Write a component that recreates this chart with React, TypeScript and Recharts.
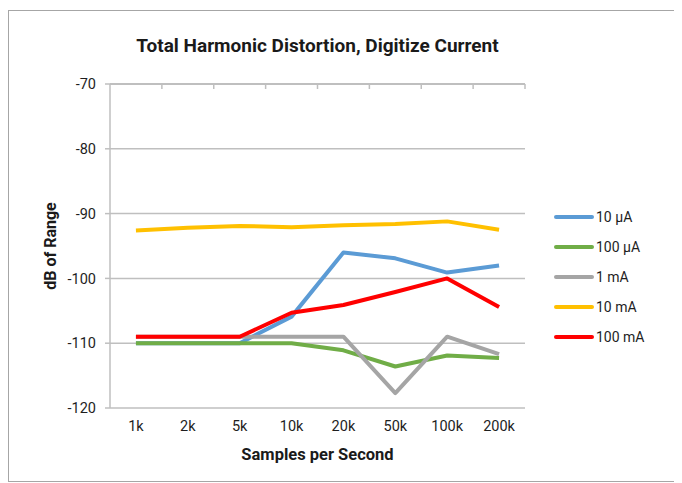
import React from 'react';
import { LineChart, Line, XAxis, YAxis, CartesianGrid, Label } from 'recharts';

const categories = ['1k', '2k', '5k', '10k', '20k', '50k', '100k', '200k'];
const uA10 = [-110, -110, -110, -105.9, -96.0, -96.9, -99.1, -98.0];
const uA100 = [-110, -110, -110, -110, -111.1, -113.6, -111.9, -112.3];
const mA1 = [-109, -109, -109, -109, -109, -117.7, -109, -111.7];
const mA10 = [-92.6, -92.2, -91.9, -92.1, -91.8, -91.6, -91.2, -92.5];
const mA100 = [-109, -109, -109, -105.3, -104.1, -102.1, -100.0, -104.4];
const yTicks = [-120, -110, -100, -90, -80, -70];

const series = [
    { key: 'uA10', name: '10 µA', color: '#5B9BD5', values: uA10 },
    { key: 'uA100', name: '100 µA', color: '#70AD47', values: uA100 },
    { key: 'mA1', name: '1 mA', color: '#A5A5A5', values: mA1 },
    { key: 'mA10', name: '10 mA', color: '#FFC000', values: mA10 },
    { key: 'mA100', name: '100 mA', color: '#FF0000', values: mA100 },
];

const data = categories.map((name, idx) => {
    const row: Record<string, number | string> = { name, idx };
    series.forEach((s) => {
        row[s.key] = s.values[idx];
    });
    return row;
});

const font = 'Roboto, "DejaVu Sans", sans-serif';
const gray = '#BFBFBF';

const App: React.FC = () => {
    return (
        <div
            style={{
                position: 'relative',
                marginTop: 2,
                width: 674,
                height: 470,
                borderTop: '1.5px solid #A6A6A6',
                borderLeft: '1.5px solid #A6A6A6',
                borderBottom: '1.5px solid #A6A6A6',
                fontFamily: font,
                background: '#fff',
            }}
        >
            <div
                style={{
                    position: 'absolute',
                    top: 23,
                    left: 0,
                    width: 617,
                    textAlign: 'center',
                    fontSize: 19,
                    fontWeight: 700,
                    color: '#1a1a1a',
                }}
            >
                Total Harmonic Distortion, Digitize Current
            </div>
            <LineChart
                width={674}
                height={470}
                data={data}
                margin={{ top: 73, right: 158, bottom: 13, left: 0 }}
                style={{ fontFamily: font }}
            >
                <CartesianGrid horizontal vertical={false} stroke={gray} strokeWidth={1.5} />
                <XAxis
                    xAxisId="top"
                    orientation="top"
                    type="number"
                    dataKey="idx"
                    domain={[-0.5, 7.5]}
                    ticks={[0.5, 1.5, 2.5, 3.5, 4.5, 5.5, 6.5, 7.5]}
                    height={10}
                    mirror
                    tickFormatter={() => ''}
                    tickSize={5}
                    axisLine={{ stroke: gray, strokeWidth: 2 }}
                    tickLine={{ stroke: gray, strokeWidth: 1.5 }}
                />
                <XAxis
                    xAxisId="bottom"
                    type="number"
                    dataKey="idx"
                    domain={[-0.5, 7.5]}
                    ticks={[0, 1, 2, 3, 4, 5, 6, 7]}
                    tickFormatter={(i: number) => categories[i]}
                    height={60}
                    axisLine={false}
                    tickLine={false}
                    tickSize={6}
                    tickMargin={7}
                    tick={{ fill: '#1e1e1e', fontSize: 14.5 }}
                >
                    <Label
                        value="Samples per Second"
                        position="insideBottom"
                        offset={8}
                        style={{ fill: '#1a1a1a', fontSize: 16.5, fontWeight: 700 }}
                    />
                </XAxis>
                <YAxis
                    domain={[-120, -70]}
                    ticks={yTicks}
                    width={101}
                    tickSize={5}
                    tickMargin={9}
                    axisLine={{ stroke: gray, strokeWidth: 1.5 }}
                    tickLine={{ stroke: gray, strokeWidth: 1.5 }}
                    tick={{ fill: '#1e1e1e', fontSize: 14.5 }}
                >
                    <Label
                        value="dB of Range"
                        angle={-90}
                        position="insideLeft"
                        offset={41}
                        style={{ textAnchor: 'middle', fill: '#1a1a1a', fontSize: 16, fontWeight: 700 }}
                    />
                </YAxis>
                {series.map((s) => (
                    <Line
                        key={s.key}
                        xAxisId="bottom"
                        dataKey={s.key}
                        name={s.name}
                        stroke={s.color}
                        strokeWidth={4}
                        strokeLinejoin="round"
                        dot={false}
                        isAnimationActive={false}
                    />
                ))}
            </LineChart>
            <div style={{ position: 'absolute', left: 545, top: 191 }}>
                {series.map((s) => (
                    <div key={s.key} style={{ display: 'flex', alignItems: 'center', height: 30 }}>
                        <div style={{ width: 40, height: 4, borderRadius: 2, background: s.color }} />
                        <span style={{ marginLeft: 2, fontSize: 14, color: '#1e1e1e' }}>{s.name}</span>
                    </div>
                ))}
            </div>
        </div>
    );
};

export default App;
